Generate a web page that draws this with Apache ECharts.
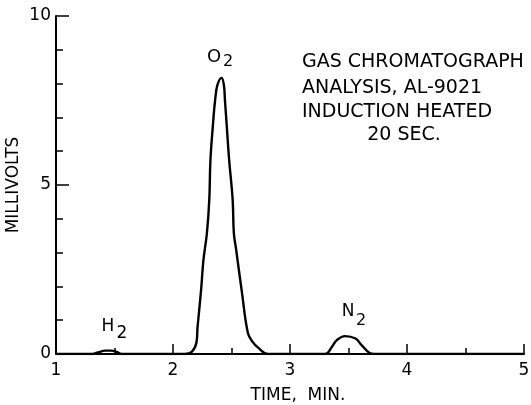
<!DOCTYPE html>
<html>
<head>
<meta charset="utf-8">
<script src="https://cdn.jsdelivr.net/npm/echarts@6/dist/echarts.min.js"></script>
<style>
  html, body { margin: 0; padding: 0; background: #fff; }
  #chart { width: 531px; height: 405px; }
</style>
</head>
<body>
<div id="chart"></div>
<script>
// 时间 (min) 和 信号 (mV)
var time = [1.00, 1.25, 1.30, 1.36, 1.42, 1.47, 1.52, 1.56, 1.65, 2.00, 2.10, 2.16, 2.20, 2.21, 2.24,
            2.26, 2.29, 2.31, 2.32, 2.34, 2.36, 2.38, 2.415, 2.435, 2.444, 2.46, 2.48, 2.51, 2.52,
            2.54, 2.59, 2.64, 2.68, 2.73, 2.81, 3.00, 3.30, 3.36, 3.40, 3.47, 3.56, 3.61, 3.68, 3.72,
            4.00, 5.00];
var millivolts = [0.00, 0.00, 0.00, 0.05, 0.10, 0.10, 0.06, 0.00, 0.00, 0.00, 0.00, 0.06, 0.33, 0.80, 1.89,
                  2.78, 3.58, 4.56, 5.74, 6.72, 7.51, 7.96, 8.17, 7.96, 7.51, 6.72, 5.74, 4.56, 3.58,
                  3.08, 1.80, 0.62, 0.36, 0.18, 0.00, 0.00, 0.00, 0.22, 0.41, 0.53, 0.46, 0.27, 0.03, 0.00,
                  0.00, 0.00];
var xTicks = [1, 2, 3, 4, 5];
var yTicks = [0, 5, 10];
var infoLines = ['GAS CHROMATOGRAPH', 'ANALYSIS, AL-9021', 'INDUCTION HEATED', '20 SEC.'];

var font = '"DejaVu Sans", "Liberation Sans", sans-serif';

var points = time.map(function(t, i) {
    return [t, millivolts[i]];
});

function txt(text, x, y, size, align) {
    return {
        type: 'text',
        x: x,
        y: y,
        style: {
            text: text,
            fill: '#000',
            fontSize: size,
            fontFamily: font,
            align: align || 'center',
            verticalAlign: 'middle'
        }
    };
}

var myChart = echarts.init(document.getElementById('chart'));

var option = {
    backgroundColor: '#fff',
    animation: false,
    grid: { left: 56, right: 7, top: 16, bottom: 51, containLabel: false, outerBoundsMode: 'none' },
    xAxis: {
        type: 'value',
        min: xTicks[0],
        max: xTicks[xTicks.length - 1],
        interval: 1,
        name: 'TIME,  MIN.',
        nameLocation: 'middle',
        nameGap: 33,
        nameTextStyle: { color: '#000', fontSize: 17, fontFamily: font, padding: [0, 0, 0, 16] },
        axisLine: { lineStyle: { color: '#000', width: 2 } },
        axisTick: { inside: true, length: 10, lineStyle: { color: '#000', width: 1.5 } },
        minorTick: { show: true, splitNumber: 2, length: 6, lineStyle: { color: '#000', width: 1.5 } },
        splitLine: { show: false },
        axisLabel: { color: '#000', fontSize: 17, fontFamily: font, margin: 8 }
    },
    yAxis: {
        type: 'value',
        min: yTicks[0],
        max: yTicks[yTicks.length - 1],
        interval: 5,
        name: 'MILLIVOLTS',
        nameLocation: 'middle',
        nameGap: 34,
        nameMoveOverlap: false,
        nameTextStyle: { color: '#000', fontSize: 17, fontFamily: font },
        axisLine: { show: true, lineStyle: { color: '#000', width: 2 } },
        axisTick: { show: true, inside: true, length: 13, lineStyle: { color: '#000', width: 1.5 } },
        minorTick: { show: true, splitNumber: 5, length: 7, lineStyle: { color: '#000', width: 1.5 } },
        splitLine: { show: false },
        axisLabel: { color: '#000', fontSize: 17, fontFamily: font, margin: 5 }
    },
    series: [{
        type: 'line',
        data: points,
        showSymbol: false,
        smooth: 0.4,
        lineStyle: { color: '#000', width: 2.4 }
    }],
    graphic: [
        txt('O', 214, 57, 18),
        txt('2', 228, 62, 16),
        txt('H', 108, 327, 17),
        txt('2', 122, 334, 17),
        txt('N', 348, 312, 17),
        txt('2', 361, 321, 16),
        txt(infoLines[0], 302, 62, 19, 'left'),
        txt(infoLines[1], 302, 88, 19, 'left'),
        txt(infoLines[2], 302, 112, 19, 'left'),
        txt(infoLines[3], 404, 135, 19)
    ]
};

myChart.setOption(option);
</script>
</body>
</html>
